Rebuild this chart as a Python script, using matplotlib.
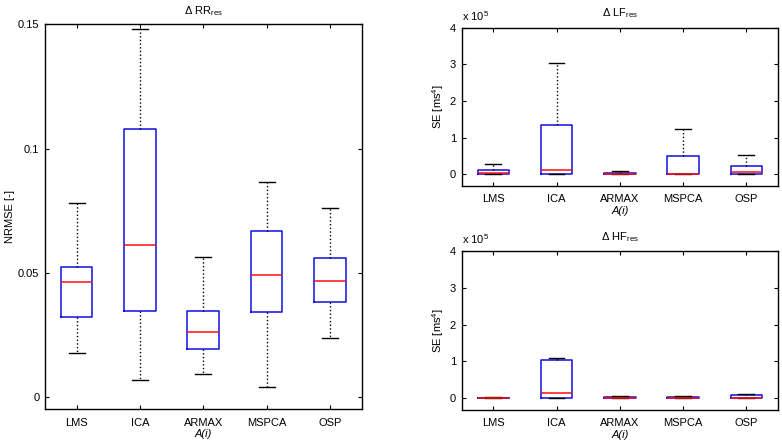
import matplotlib
matplotlib.use('Agg')
import matplotlib.pyplot as plt

plt.rcParams['font.family'] = ['Liberation Sans', 'DejaVu Sans']
plt.rcParams['mathtext.fontset'] = 'custom'
plt.rcParams['mathtext.rm'] = 'Liberation Sans'
plt.rcParams['mathtext.it'] = 'Liberation Sans:italic'

methods = ['LMS', 'ICA', 'ARMAX', 'MSPCA', 'OSP']

# Delta RR_res, NRMSE [-]
rr_lo = [0.0178, 0.0070, 0.0093, 0.0042, 0.0237]
rr_q1 = [0.0323, 0.0346, 0.0193, 0.0342, 0.0384]
rr_med = [0.0462, 0.0613, 0.0260, 0.0492, 0.0467]
rr_q3 = [0.0525, 0.1080, 0.0348, 0.0670, 0.0558]
rr_hi = [0.0780, 0.1483, 0.0565, 0.0867, 0.0762]

# Delta LF_res, SE [ms^4] in units of 1e5
lf_lo = [0.0, 0.0, 0.0, 0.0, 0.0]
lf_q1 = [0.0, 0.018, 0.0, 0.0, 0.01]
lf_med = [0.036, 0.109, 0.0, 0.0, 0.064]
lf_q3 = [0.127, 1.336, 0.045, 0.509, 0.236]
lf_hi = [0.29, 3.045, 0.08, 1.227, 0.536]

# Delta HF_res, SE [ms^4] in units of 1e5
hf_lo = [0.0, 0.0, 0.0, 0.0, 0.0]
hf_q1 = [0.0, 0.0, 0.0, 0.0, 0.0]
hf_med = [0.0, 0.136, 0.0, 0.0, 0.0]
hf_q3 = [0.018, 1.05, 0.027, 0.027, 0.081]
hf_hi = [0.045, 1.086, 0.063, 0.054, 0.118]


def draw_box(ax, lo, q1, med, q3, hi):
    stats = []
    for i in range(len(methods)):
        stats.append({'whislo': lo[i], 'q1': q1[i], 'med': med[i],
                      'q3': q3[i], 'whishi': hi[i], 'fliers': []})
    ax.bxp(stats, positions=range(1, len(methods) + 1), widths=0.5,
           showfliers=False,
           boxprops=dict(color='#1010e0', linewidth=1.1),
           medianprops=dict(color='#ff1010', linewidth=1.1),
           whiskerprops=dict(color='black', linestyle=':', linewidth=1.0),
           capprops=dict(color='black', linewidth=1.0),
           capwidths=0.25)
    ax.set_xlim(0.5, 5.5)
    ax.set_xticks(range(1, len(methods) + 1))
    ax.set_xticklabels(methods)
    ax.tick_params(direction='in', top=True, right=True, labelsize=8,
                   length=3, width=0.8, pad=6)
    ax.tick_params(axis='y', pad=4)
    for s in ax.spines.values():
        s.set_linewidth(1.0)
    ax.set_xlabel('A(i)', fontsize=8, style='italic', labelpad=1)


fig = plt.figure(figsize=(7.82, 4.44), dpi=100)

ax1 = fig.add_axes([0.0575, 0.078, 0.405, 0.867])
draw_box(ax1, rr_lo, rr_q1, rr_med, rr_q3, rr_hi)
ax1.set_ylim(-0.005, 0.15)
ax1.set_yticks([0, 0.05, 0.1, 0.15])
ax1.set_yticklabels(['0', '0.05', '0.1', '0.15'])
ax1.set_ylabel('NRMSE [-]', fontsize=8, labelpad=2)
ax1.set_title(r'$\Delta$ RR$_{\rm res}$', fontsize=8, pad=7)

ax2 = fig.add_axes([0.5904, 0.581, 0.4045, 0.3565])
draw_box(ax2, lf_lo, lf_q1, lf_med, lf_q3, lf_hi)
ax2.set_ylim(-0.32, 4)
ax2.set_yticks([0, 1, 2, 3, 4])
ax2.set_ylabel(r'SE [ms$^4$]', fontsize=8, labelpad=3)
ax2.set_title(r'$\Delta$ LF$_{\rm res}$', fontsize=8, pad=8)
ax2.text(0.0, 1.03, r'x 10$^5$', transform=ax2.transAxes, fontsize=8,
         ha='left', va='bottom')

ax3 = fig.add_axes([0.5904, 0.0766, 0.4045, 0.358])
draw_box(ax3, hf_lo, hf_q1, hf_med, hf_q3, hf_hi)
ax3.set_ylim(-0.32, 4)
ax3.set_yticks([0, 1, 2, 3, 4])
ax3.set_ylabel(r'SE [ms$^4$]', fontsize=8, labelpad=3)
ax3.set_title(r'$\Delta$ HF$_{\rm res}$', fontsize=8, pad=8)
ax3.text(0.0, 1.03, r'x 10$^5$', transform=ax3.transAxes, fontsize=8,
         ha='left', va='bottom')

fig.savefig('out.png', dpi=100)
